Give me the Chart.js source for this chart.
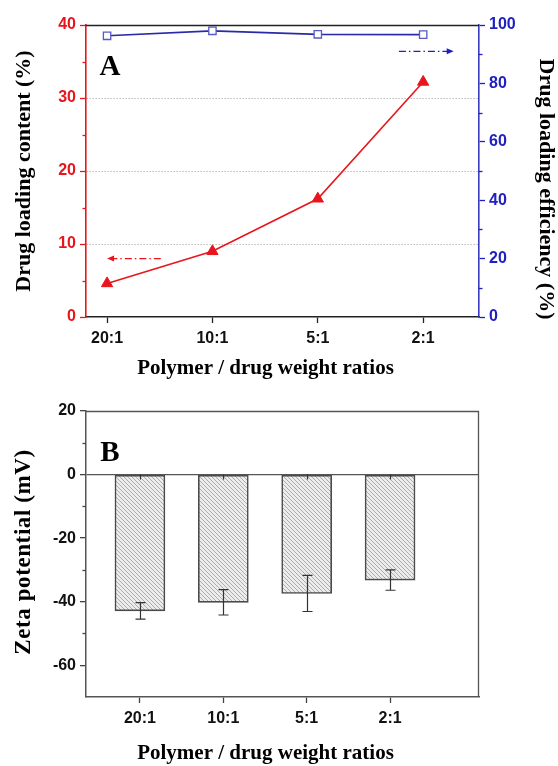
<!DOCTYPE html>
<html>
<head>
<meta charset="utf-8">
<script src="https://cdn.jsdelivr.net/npm/chart.js@4/dist/chart.umd.min.js"></script>
<style>
  body { margin: 0; background: #fff; }
  .panel { position: absolute; left: 0; }
  #panelA { top: 0; }
  #panelB { top: 385px; }
</style>
</head>
<body>
<div class="panel" id="panelA"><canvas id="chartA" width="558" height="385"></canvas></div>
<div class="panel" id="panelB"><canvas id="chartB" width="558" height="381"></canvas></div>
<script>
// data
const ratios = ["20:1", "10:1", "5:1", "2:1"];
const loadingContent = [4.6, 9.0, 16.2, 32.2];      // %
const loadingEfficiency = [96.3, 98.0, 96.8, 96.7]; // %
const zetaPotential = [-42.9, -40.2, -37.4, -33.2]; // mV
const zetaError = [2.6, 4.0, 5.7, 3.2];

const RED = "#e8161c";
const BLUE = "#2020c0";
const serif = "'Liberation Serif', 'Times New Roman', serif";
const sans = "'Liberation Sans', Arial, sans-serif";

const tickFont = { family: sans, size: 16, weight: "bold" };

// short ticks between the labelled ones
const minorTicks = {
  id: "minorTicks",
  afterDraw(chart, args, opts) {
    const ctx = chart.ctx;
    (opts.marks || []).forEach((m) => {
      const s = chart.scales[m.axis];
      const left = s.position === "left";
      const x = left ? s.right : s.left;
      ctx.save();
      ctx.strokeStyle = m.color;
      ctx.lineWidth = 1.3;
      m.values.forEach((v) => {
        const y = Math.round(s.getPixelForValue(v)) + 0.5;
        ctx.beginPath();
        ctx.moveTo(x, y);
        ctx.lineTo(x + (left ? -3.5 : 3.5), y);
        ctx.stroke();
      });
      ctx.restore();
    });
  },
};

// top / right frame lines, panel letter and axis titles
const frame = {
  id: "frame",
  afterDraw(chart, args, opts) {
    const { ctx, chartArea: a } = chart;
    ctx.save();
    ctx.lineWidth = 1.3;
    ctx.strokeStyle = opts.color;
    ctx.beginPath();
    ctx.moveTo(a.left, a.top + 0.5);
    ctx.lineTo(a.right, a.top + 0.5);
    if (opts.right) {
      ctx.moveTo(a.right - 0.5, a.top);
      ctx.lineTo(a.right - 0.5, a.bottom);
    }
    ctx.stroke();
    ctx.fillStyle = "#000";
    ctx.font = "bold 29px " + serif;
    ctx.textAlign = "center";
    ctx.textBaseline = "middle";
    ctx.fillText(opts.letter, a.left + 24, a.top + 43);
    opts.titles.forEach((t) => {
      ctx.save();
      ctx.translate(t.x, t.y);
      ctx.rotate(t.rot * Math.PI / 2);
      ctx.font = "bold " + t.size + "px " + serif;
      ctx.letterSpacing = t.spacing || "0px";
      ctx.fillText(t.text, 0, 0);
      ctx.restore();
    });
    ctx.restore();
  },
};

// dash-dot arrows telling which axis each curve belongs to
const axisArrows = {
  id: "axisArrows",
  afterDatasetsDraw(chart, args, opts) {
    const ctx = chart.ctx;
    const xs = chart.scales.x;
    opts.arrows.forEach((ar) => {
      const ys = chart.scales[ar.axis];
      const y = ys.getPixelForValue(ar.value);
      const x1 = xs.getPixelForValue(ar.from);
      const x2 = xs.getPixelForValue(ar.to);
      const dir = Math.sign(x2 - x1);
      ctx.save();
      ctx.strokeStyle = ar.color;
      ctx.fillStyle = ar.color;
      ctx.lineWidth = 1.2;
      ctx.setLineDash([7, 3, 1.5, 3]);
      ctx.beginPath();
      ctx.moveTo(x1, y);
      ctx.lineTo(x2 - dir * 5, y);
      ctx.stroke();
      ctx.setLineDash([]);
      ctx.beginPath();
      ctx.moveTo(x2, y);
      ctx.lineTo(x2 - dir * 7, y - 3);
      ctx.lineTo(x2 - dir * 7, y + 3);
      ctx.closePath();
      ctx.fill();
      ctx.restore();
    });
  },
};

// error bars and the small ticks on the zero line
const errorBars = {
  id: "errorBars",
  afterDatasetsDraw(chart) {
    const ctx = chart.ctx;
    const xs = chart.scales.x;
    const ys = chart.scales.y;
    ctx.save();
    ctx.strokeStyle = "#333";
    ctx.lineWidth = 1.2;
    zetaPotential.forEach((v, i) => {
      const x = Math.round(xs.getPixelForValue(i)) + 0.5;
      const yHi = ys.getPixelForValue(v + zetaError[i]);
      const yLo = ys.getPixelForValue(v - zetaError[i]);
      const y0 = ys.getPixelForValue(0);
      ctx.beginPath();
      ctx.moveTo(x, yHi);
      ctx.lineTo(x, yLo);
      ctx.moveTo(x - 5, yHi);
      ctx.lineTo(x + 5, yHi);
      ctx.moveTo(x - 5, yLo);
      ctx.lineTo(x + 5, yLo);
      ctx.moveTo(x, y0);
      ctx.lineTo(x, y0 + 5);
      ctx.stroke();
    });
    ctx.restore();
  },
};

// light grey fill with fine diagonal hatching
function hatchPattern() {
  const c = document.createElement("canvas");
  c.width = 4;
  c.height = 4;
  const g = c.getContext("2d");
  g.fillStyle = "#ececec";
  g.fillRect(0, 0, 4, 4);
  g.strokeStyle = "#a6a6a6";
  g.lineWidth = 0.9;
  g.beginPath();
  g.moveTo(-1, -1);
  g.lineTo(5, 5);
  g.moveTo(-1, 3);
  g.lineTo(1, 5);
  g.moveTo(3, -1);
  g.lineTo(5, 1);
  g.stroke();
  return g.createPattern(c, "repeat");
}

const categoryTicks = (scale) => {
  scale.ticks = ratios.map((r, i) => ({ value: i }));
};

// Panel A: loading content (left) and efficiency (right)
new Chart(document.querySelector("#chartA"), {
  type: "line",
  data: {
    datasets: [
      {
        label: "Drug loading content",
        data: loadingContent.map((v, i) => ({ x: i, y: v })),
        yAxisID: "yL",
        borderColor: RED,
        backgroundColor: RED,
        borderWidth: 1.6,
        pointStyle: "triangle",
        pointRadius: 6.5,
        pointBorderWidth: 1,
      },
      {
        label: "Drug loading efficiency",
        data: loadingEfficiency.map((v, i) => ({ x: i, y: v })),
        yAxisID: "yR",
        borderColor: "#2a2aa8",
        borderWidth: 1.6,
        pointStyle: "rect",
        pointRadius: 5.2,
        pointBackgroundColor: "#fff",
        pointBorderColor: "#5858c8",
        pointBorderWidth: 1.3,
      },
    ],
  },
  options: {
    responsive: false,
    animation: false,
    clip: false,
    layout: { padding: { top: 25 } },
    plugins: {
      legend: { display: false },
      tooltip: { enabled: false },
      minorTicks: {
        marks: [
          { axis: "yL", values: [5, 15, 25, 35], color: RED },
          { axis: "yR", values: [10, 30, 50, 70, 90], color: BLUE },
        ],
      },
      frame: {
        color: "#222",
        letter: "A",
        titles: [
          { text: "Drug loading content (%)", x: 24, y: 171, rot: -1, size: 22 },
          { text: "Drug loading efficiency (%)", x: 546, y: 189, rot: 1, size: 22 },
          { text: "Polymer / drug weight ratios", x: 265.5, y: 369, rot: 0, size: 21 },
        ],
      },
      axisArrows: {
        arrows: [
          { axis: "yL", value: 8, from: 0.51, to: 0, color: RED },
          { axis: "yR", value: 91, from: 2.77, to: 3.29, color: BLUE },
        ],
      },
    },
    scales: {
      x: {
        type: "linear",
        min: -0.2,
        max: 3.53,
        afterBuildTicks: categoryTicks,
        afterFit: (s) => { s.height = 68; },
        ticks: { font: tickFont, color: "#111", padding: 6, callback: (v) => ratios[v] },
        grid: { drawOnChartArea: false, tickLength: 6, tickWidth: 1.3, tickColor: "#222" },
        border: { color: "#222", width: 1.5 },
      },
      yL: {
        position: "left",
        min: 0,
        max: 40,
        afterFit: (s) => { s.width = 86; },
        ticks: { stepSize: 10, font: tickFont, color: RED, padding: 4 },
        grid: {
          tickLength: 6,
          tickWidth: 1.3,
          tickColor: RED,
          lineWidth: 1,
          color: (c) => (c.tick && c.tick.value > 0 && c.tick.value < 40 ? "#9a9a9a" : "transparent"),
        },
        border: { color: RED, width: 1.6, dash: [1, 2] },
      },
      yR: {
        position: "right",
        min: 0,
        max: 100,
        afterFit: (s) => { s.width = 79; },
        ticks: { stepSize: 20, font: tickFont, color: BLUE, padding: 4 },
        grid: { drawOnChartArea: false, tickLength: 6, tickWidth: 1.3, tickColor: BLUE },
        border: { color: "#3a3ac0", width: 1.6 },
      },
    },
  },
  plugins: [minorTicks, frame, axisArrows],
});

// Panel B: zeta potential bars with error bars
new Chart(document.querySelector("#chartB"), {
  type: "bar",
  data: {
    datasets: [
      {
        label: "Zeta potential",
        data: zetaPotential.map((v, i) => ({ x: i, y: v })),
        backgroundColor: hatchPattern(),
        borderColor: "#4a4a4a",
        borderWidth: 1.6,
        borderSkipped: false,
        barThickness: 50,
      },
    ],
  },
  options: {
    responsive: false,
    animation: false,
    layout: { padding: { top: 26, right: 79 } },
    plugins: {
      legend: { display: false },
      tooltip: { enabled: false },
      minorTicks: { marks: [{ axis: "y", values: [10, -10, -30, -50], color: "#444" }] },
      frame: {
        color: "#555",
        letter: "B",
        right: true,
        titles: [
          { text: "Zeta potential (mV)", x: 24, y: 167, rot: -1, size: 23, spacing: "0.6px" },
          { text: "Polymer / drug weight ratios", x: 265.5, y: 369, rot: 0, size: 21 },
        ],
      },
    },
    scales: {
      x: {
        type: "linear",
        offset: false,
        min: -0.647,
        max: 4.067,
        afterBuildTicks: categoryTicks,
        afterFit: (s) => { s.height = 69; },
        ticks: { font: tickFont, color: "#111", padding: 6, callback: (v) => ratios[v] },
        grid: { offset: false, drawOnChartArea: false, tickLength: 6, tickWidth: 1.3, tickColor: "#444" },
        border: { color: "#555", width: 1.5 },
      },
      y: {
        min: -70,
        max: 20,
        afterFit: (s) => { s.width = 86; },
        ticks: {
          stepSize: 10,
          font: tickFont,
          color: "#111",
          padding: 4,
          callback: (v) => (v % 20 === 0 ? v : ""),
        },
        grid: {
          tickLength: 6,
          tickWidth: 1.3,
          lineWidth: 1.3,
          tickColor: (c) => (c.tick && c.tick.value % 20 === 0 ? "#444" : "transparent"),
          color: (c) => (c.tick && c.tick.value === 0 ? "#555" : "transparent"),
        },
        border: { color: "#555", width: 1.5 },
      },
    },
  },
  plugins: [minorTicks, frame, errorBars],
});
</script>
</body>
</html>
